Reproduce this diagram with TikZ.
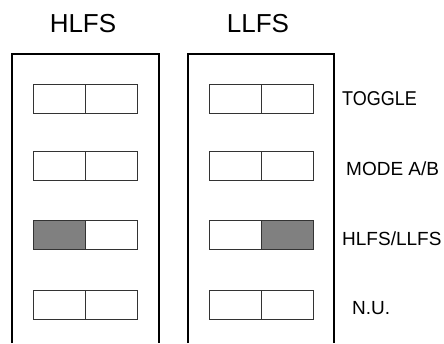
\documentclass[tikz,border=0pt]{standalone}
\usepackage{fontspec}
\setmainfont{Liberation Sans}
\begin{document}
\begin{tikzpicture}[x=1pt,y=-1pt,
  half/.style={draw=black!80, line width=0.9pt, minimum width=52pt, minimum height=29pt, inner sep=0pt, outer sep=0pt, anchor=north west},
  on/.style={half, fill=black!50},
  panel/.style={line width=1.8pt},
  title/.style={font=\fontsize{26}{30}\selectfont},
  lab/.style={font=\fontsize{19}{21}\selectfont, anchor=west, inner sep=0pt}]
\useasboundingbox (0,0) rectangle (444,343);
% panels
\coordinate (p1a) at (12,343); \coordinate (p1b) at (12,54);
\coordinate (p1c) at (158.7,54); \coordinate (p1d) at (158.7,343);
\coordinate (p2a) at (187.7,343); \coordinate (p2b) at (187.7,54);
\coordinate (p2c) at (334.3,54); \coordinate (p2d) at (334.3,343);
\draw[panel] (p1a) -- (p1b) -- (p1c) -- (p1d);
\draw[panel] (p2a) -- (p2b) -- (p2c) -- (p2d);
% titles
\node[title] (t1) at (83,24) {HLFS};
\node[title] (t2) at (258,24) {LLFS};
% switches
\foreach \i/\y in {1/84, 2/151, 3/220, 4/290} {
  \ifnum\i=3
    \node[on]   (l\i a) at (33.3,\y) {};
    \node[on]   (r\i b) at (261.3,\y) {};
  \else
    \node[half] (l\i a) at (33.3,\y) {};
    \node[half] (r\i b) at (261.3,\y) {};
  \fi
  \node[half] (l\i b) at (85.3,\y) {};
  \node[half] (r\i a) at (209.3,\y) {};
}
% labels
\node[lab, font=\fontsize{20}{22}\selectfont, xscale=0.9] (n1) at (342,98.5) {TOGGLE};
\node[lab] (n2) at (346,169) {MODE A/B};
\node[lab] (n3) at (342,238.5) {HLFS/LLFS};
\node[lab] (n4) at (352,308) {N.U.};
\end{tikzpicture}
\end{document}
